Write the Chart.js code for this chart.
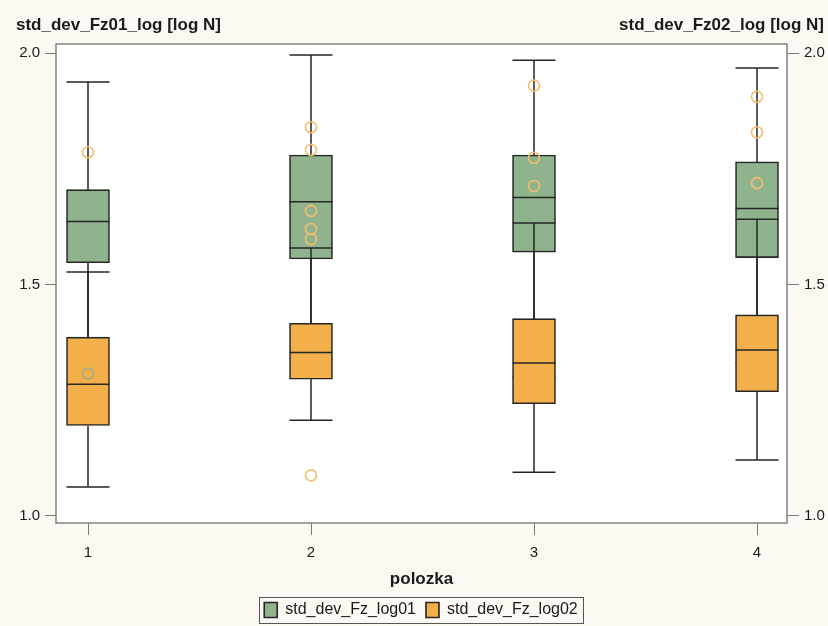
<!DOCTYPE html>
<html>
<head>
<meta charset="utf-8">
<title>std_dev_Fz box plot</title>
<script src="https://cdn.jsdelivr.net/npm/chart.js@4.4.0/dist/chart.umd.min.js"></script>
<style>
  html, body { margin: 0; padding: 0; background: #fcf9f2; }
  #wrap { position: relative; width: 828px; height: 626px; }
</style>
</head>
<body>
<div id="wrap"><canvas id="c" width="828" height="626"></canvas></div>
<script>
// Positions on the x axis (polozka) and axis tick values
const positions = [1, 2, 3, 4];
const xTickValues = [1, 2, 3, 4];
const yTickValues = [1.0, 1.5, 2.0];

// std_dev_Fz_log01 box statistics per position
const fz01Min    = [1.330, 1.340, 1.300, 1.330];
const fz01Q1     = [1.547, 1.555, 1.570, 1.558];
const fz01Median = [1.636, 1.679, 1.688, 1.664];
const fz01Q3     = [1.705, 1.780, 1.780, 1.765];
const fz01Max    = [1.938, 1.996, 1.985, 1.968];
const fz01Outliers = [[1.307], [], [], []];

// std_dev_Fz_log02 box statistics per position
const fz02Min    = [1.062, 1.206, 1.094, 1.120];
const fz02Q1     = [1.195, 1.295, 1.242, 1.268];
const fz02Median = [1.284, 1.353, 1.330, 1.358];
const fz02Q3     = [1.386, 1.416, 1.426, 1.434];
const fz02Max    = [1.527, 1.579, 1.633, 1.641];
const fz02Outliers = [
  [1.786],
  [1.840, 1.791, 1.659, 1.620, 1.598, 1.087],
  [1.930, 1.774, 1.713],
  [1.906, 1.829, 1.719]
];

const GREEN = '#8fb48d';
const ORANGE = '#f2af4a';
const EDGE = '#262626';
const TEXT = '#1a1a1a';
const FRAME = '#7a7a7a';
const FONT = '"Liberation Sans", Arial, Helvetica, sans-serif';

Chart.defaults.font.family = FONT;
Chart.defaults.color = TEXT;

function boxData(q1, q3) {
  return positions.map((p, i) => ({ x: p, y: [q1[i], q3[i]] }));
}
function outlierData(lists) {
  const pts = [];
  lists.forEach((vals, i) => vals.forEach(v => pts.push({ x: positions[i], y: v })));
  return pts;
}

// Whiskers, caps and median lines, drawn right after each box dataset
const boxWhiskers = {
  id: 'boxWhiskers',
  afterDatasetDraw(chart, args) {
    const ds = chart.data.datasets[args.index];
    if (!ds.stats) return;
    const ys = chart.scales.y;
    const ctx = chart.ctx;
    const s = ds.stats;
    ctx.save();
    ctx.strokeStyle = EDGE;
    ctx.lineWidth = 1.5;
    args.meta.data.forEach((bar, i) => {
      const { x, width } = bar.getProps(['x', 'width'], true);
      const half = width / 2;
      const pMin = ys.getPixelForValue(s.min[i]);
      const pQ1 = ys.getPixelForValue(s.q1[i]);
      const pMed = ys.getPixelForValue(s.median[i]);
      const pQ3 = ys.getPixelForValue(s.q3[i]);
      const pMax = ys.getPixelForValue(s.max[i]);
      ctx.beginPath();
      ctx.moveTo(x, pQ3); ctx.lineTo(x, pMax);
      ctx.moveTo(x - half, pMax); ctx.lineTo(x + half, pMax);
      ctx.moveTo(x, pQ1); ctx.lineTo(x, pMin);
      ctx.moveTo(x - half, pMin); ctx.lineTo(x + half, pMin);
      ctx.moveTo(x - half, pMed); ctx.lineTo(x + half, pMed);
      ctx.stroke();
    });
    ctx.restore();
  }
};

// Page background, white plot area, frame, axis headers and legend border
const decor = {
  id: 'decor',
  beforeDraw(chart) {
    const { ctx, chartArea: a } = chart;
    ctx.save();
    ctx.fillStyle = '#fcf9f2';
    ctx.fillRect(0, 0, chart.width, chart.height);
    ctx.fillStyle = '#ffffff';
    ctx.fillRect(a.left, a.top, a.right - a.left, a.bottom - a.top);
    ctx.restore();
  },
  beforeDatasetsDraw(chart) {
    const { ctx, chartArea: a } = chart;
    ctx.save();
    ctx.strokeStyle = FRAME;
    ctx.lineWidth = 1.4;
    ctx.strokeRect(a.left, a.top, a.right - a.left, a.bottom - a.top);
    ctx.restore();
  },
  afterDraw(chart) {
    const ctx = chart.ctx;
    ctx.save();
    ctx.fillStyle = TEXT;
    ctx.font = 'bold 17px ' + FONT;
    ctx.textBaseline = 'middle';
    ctx.textAlign = 'left';
    ctx.fillText('std_dev_Fz01_log [log N]', 16, 25);
    ctx.textAlign = 'right';
    ctx.fillText('std_dev_Fz02_log [log N]', 824, 25);

    const hb = chart.legend.legendHitBoxes;
    if (hb && hb.length) {
      const left = Math.min(...hb.map(h => h.left)) - 5;
      const right = Math.max(...hb.map(h => h.left + h.width)) + 5;
      const top = hb[0].top - 5;
      const bottom = hb[0].top + hb[0].height + 5;
      ctx.strokeStyle = '#555555';
      ctx.lineWidth = 1;
      ctx.strokeRect(Math.round(left) + 0.5, Math.round(top) + 0.5, Math.round(right - left), Math.round(bottom - top));
    }
    ctx.restore();
  }
};

const tickFont = { size: 15 };

new Chart(document.getElementById('c'), {
  type: 'bar',
  data: {
    datasets: [
      {
        type: 'bar',
        label: 'std_dev_Fz_log01',
        data: boxData(fz01Q1, fz01Q3),
        backgroundColor: GREEN,
        borderColor: EDGE,
        borderWidth: 1.6,
        borderSkipped: false,
        barThickness: 43,
        grouped: false,
        order: 3,
        stats: { min: fz01Min, q1: fz01Q1, median: fz01Median, q3: fz01Q3, max: fz01Max }
      },
      {
        type: 'bar',
        label: 'std_dev_Fz_log02',
        data: boxData(fz02Q1, fz02Q3),
        backgroundColor: ORANGE,
        borderColor: EDGE,
        borderWidth: 1.6,
        borderSkipped: false,
        barThickness: 43,
        grouped: false,
        order: 2,
        stats: { min: fz02Min, q1: fz02Q1, median: fz02Median, q3: fz02Q3, max: fz02Max }
      },
      {
        type: 'scatter',
        label: 'std_dev_Fz_log01 outliers',
        data: outlierData(fz01Outliers),
        pointStyle: 'circle',
        pointRadius: 5.5,
        borderWidth: 1.6,
        borderColor: '#9caf88',
        backgroundColor: 'rgba(0,0,0,0)',
        order: 1
      },
      {
        type: 'scatter',
        label: 'std_dev_Fz_log02 outliers',
        data: outlierData(fz02Outliers),
        pointStyle: 'circle',
        pointRadius: 5.5,
        borderWidth: 1.6,
        borderColor: '#f5bd6e',
        backgroundColor: 'rgba(0,0,0,0)',
        order: 0
      }
    ]
  },
  options: {
    responsive: false,
    animation: false,
    devicePixelRatio: 1,
    layout: { padding: { top: 44, left: 14, right: 0, bottom: -2 } },
    scales: {
      x: {
        type: 'linear',
        min: 0.8565,
        max: 4.1345,
        offset: false,
        grid: { drawOnChartArea: false, drawTicks: true, tickLength: 12, color: FRAME, offset: false },
        border: { display: false },
        ticks: { font: tickFont, color: TEXT, padding: 9, callback: v => String(v) },
        afterBuildTicks: s => { s.ticks = xTickValues.map(v => ({ value: v })); },
        afterFit: s => { s.height = 69; },
        title: { display: true, text: 'polozka', font: { size: 17, weight: 'bold' }, color: TEXT, padding: { top: 0, bottom: 2 } }
      },
      y: {
        type: 'linear',
        position: 'left',
        min: 0.984,
        max: 2.020,
        grid: { drawOnChartArea: false, drawTicks: true, tickLength: 11, color: FRAME },
        border: { display: false },
        ticks: { font: tickFont, color: TEXT, padding: 5, callback: v => Number(v).toFixed(1) },
        afterBuildTicks: s => { s.ticks = yTickValues.map(v => ({ value: v })); },
        afterFit: s => { s.width = 42; }
      },
      y2: {
        type: 'linear',
        position: 'right',
        min: 0.984,
        max: 2.020,
        grid: { drawOnChartArea: false, drawTicks: true, tickLength: 12, color: FRAME },
        border: { display: false },
        ticks: { font: tickFont, color: TEXT, padding: 5, callback: v => Number(v).toFixed(1) },
        afterBuildTicks: s => { s.ticks = yTickValues.map(v => ({ value: v })); },
        afterFit: s => { s.width = 41; }
      }
    },
    plugins: {
      tooltip: { enabled: false },
      title: { display: false },
      legend: {
        display: true,
        position: 'bottom',
        labels: {
          boxWidth: 13,
          boxHeight: 15,
          padding: 10,
          color: TEXT,
          font: { size: 16 },
          filter: item => item.datasetIndex < 2,
          sort: (a, b) => a.datasetIndex - b.datasetIndex
        }
      }
    }
  },
  plugins: [boxWhiskers, decor]
});
</script>
</body>
</html>
